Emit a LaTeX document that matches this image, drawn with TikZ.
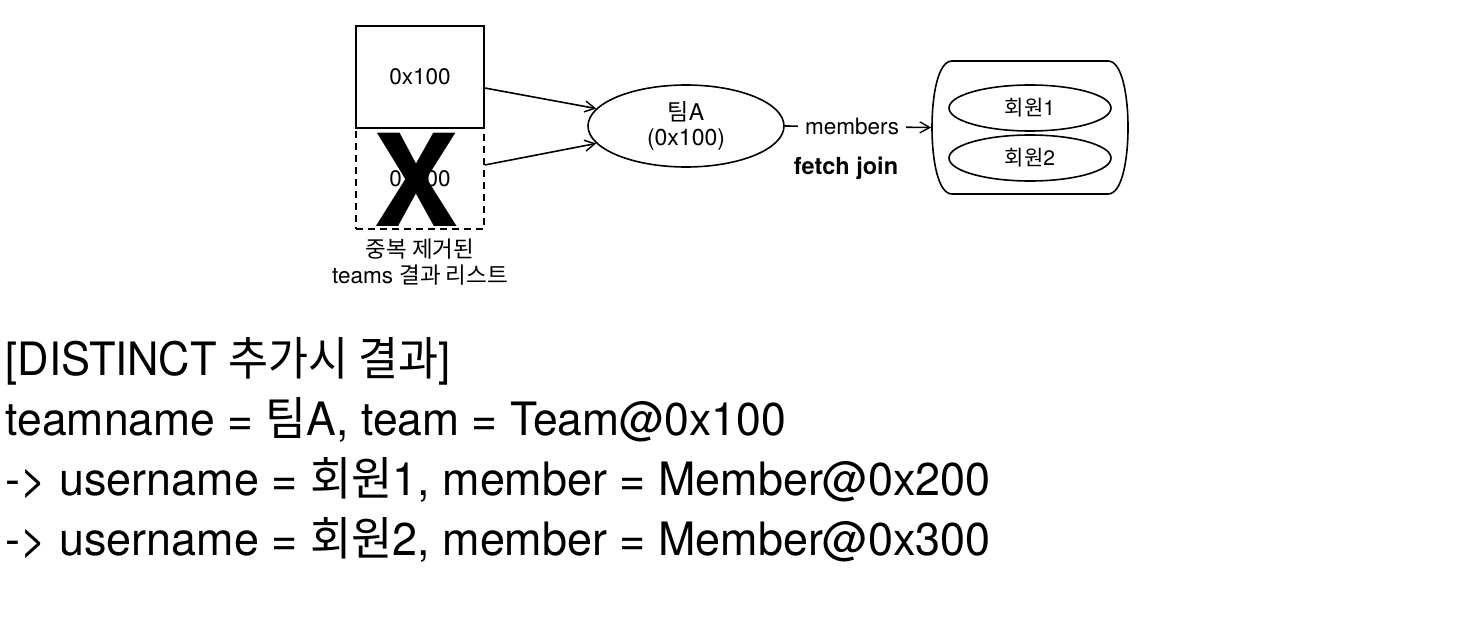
\documentclass[tikz,border=0pt]{standalone}
\usepackage{graphicx}
\usepackage{fontspec}
\setmainfont{TeX Gyre Heros}
\newfontfamily\kr{Noto Sans CJK KR}
\usetikzlibrary{arrows.meta,shapes.geometric}
\begin{document}
\begin{tikzpicture}[x=1pt,y=-1pt,line width=1.6pt,
  mid/.style={font=\fontsize{22.5}{26}\selectfont},
  big/.style={font=\fontsize{46}{50}\selectfont,anchor=base west,inner sep=0pt},
  arr/.style={-{Straight Barb[length=10pt,width=11pt,line width=1.4pt]}},
  rowbox/.style={draw,minimum width=128pt,inner sep=0pt,mid}]
\useasboundingbox[fill=white] (0,0) rectangle (1474,634);
% list boxes
\node[rowbox,dashed,dash pattern=on 7pt off 5pt,minimum height=101pt] (b2) at (420,178.5) {0x100};
\node[rowbox,minimum height=102pt] (b1) at (420,77) {0x100};
\node[font=\fontsize{128}{128}\selectfont\bfseries,inner sep=0pt] (xmark) at (416,180) {X};
\node[align=center,inner sep=0pt,font=\fontsize{22.5}{26}\selectfont] (lbl) at (420,262) {{\kr 중복 제거된}\\teams {\kr 결과 리스트}};
% team
\node[draw,ellipse,minimum width=196pt,minimum height=82pt,inner sep=0pt,align=center,font=\fontsize{23}{25}\selectfont] (team) at (686,126) {{\kr 팀}A\\(0x100)};
\draw[arr] ([yshift=-11pt]b1.east) -- (team.169);
\draw[arr] ([yshift=13.5pt]b2.east) -- (team.191);
% members container
\node[minimum width=196pt,minimum height=133pt,inner sep=0pt] (cont) at (1030,127.5) {};
\draw (952,61) -- (1108,61) .. controls (1122,61) and (1128,95) .. (1128,127.5)
  .. controls (1128,160) and (1122,194) .. (1108,194) -- (952,194)
  .. controls (938,194) and (932,160) .. (932,127.5)
  .. controls (932,95) and (938,61) .. (952,61) -- cycle;
\node[draw,ellipse,minimum width=162pt,minimum height=46pt,inner sep=0pt,font=\fontsize{21}{25}\selectfont] (m1) at (1030,108) {{\kr 회원}1};
\node[draw,ellipse,minimum width=162pt,minimum height=46pt,inner sep=0pt,font=\fontsize{21}{25}\selectfont] (m2) at (1030,158) {{\kr 회원}2};
\draw[arr] (team.east) -- node[pos=0.46,fill=white,mid,inner xsep=7pt] (mlbl) {members} (cont.west);
\node[font=\fontsize{23.5}{27}\selectfont\bfseries] (fj) at (846,168) {fetch join};
% result text
\node[big] (l1) at (5,375) {\resizebox{445pt}{\height}{[DISTINCT {\kr 추가시 결과}]}};
\node[big] (l2) at (5,435) {\resizebox{780pt}{\height}{teamname = {\kr 팀}A, team = Team@0x100}};
\node[big] (l3) at (5,495) {\resizebox{985pt}{\height}{-> username = {\kr 회원}1, member = Member@0x200}};
\node[big] (l4) at (5,555) {\resizebox{985pt}{\height}{-> username = {\kr 회원}2, member = Member@0x300}};
\end{tikzpicture}
\end{document}
